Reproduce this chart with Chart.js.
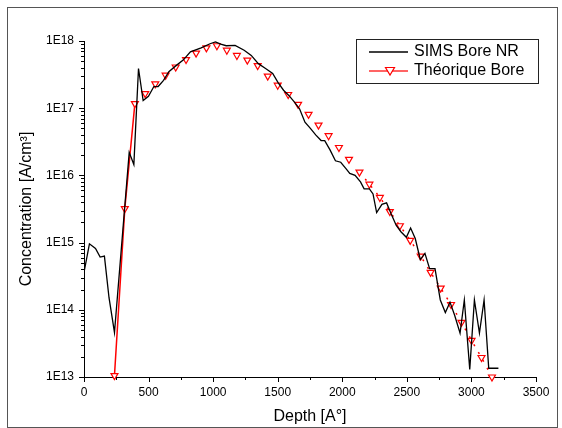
<!DOCTYPE html>
<html>
<head>
<meta charset="utf-8">
<script src="https://cdn.jsdelivr.net/npm/chart.js@4.4.1/dist/chart.umd.min.js"></script>
<style>
  body { margin: 0; background: #fff; }
  #wrap { position: relative; width: 562px; height: 428px; }
  #frame { position: absolute; left: 7px; top: 7px; width: 549px; height: 419px; border: 1px solid #555; pointer-events: none; }
</style>
</head>
<body>
<div id="wrap">
  <canvas id="myChart" width="562" height="428"></canvas>
  <div id="frame"></div>
</div>
<script>
// Profil SIMS mesuré (profondeur en A°, concentration en A/cm3)
const simsDepth = [0, 42, 89, 125, 158, 194, 236, 350, 386, 422, 458, 499, 541, 574, 616, 657, 713, 768, 824, 907,
    976, 1018, 1059, 1101, 1170, 1240, 1295, 1350, 1406, 1461, 1503, 1545, 1586, 1628, 1669, 1711, 1753, 1794, 1836, 1864,
    1905, 1947, 1988, 2030, 2058, 2099, 2141, 2169, 2210, 2238, 2266, 2307, 2343, 2377, 2418, 2454, 2496, 2529, 2565, 2604,
    2640, 2676, 2718, 2759, 2798, 2834, 2870, 2912, 2945, 2987, 3023, 3062, 3098, 3134, 3209];
const simsConc = [3.6e14, 9.6e14, 8.2e14, 6.1e14, 6.3e14, 1.5e14, 4.6e13, 2.2e16, 1.45e16, 3.9e17, 1.3e17, 1.5e17, 2.1e17, 2.1e17, 2.6e17, 3.5e17, 4.3e17, 5.2e17, 6.9e17, 7.9e17,
    9.1e17, 9.7e17, 9.0e17, 8.5e17, 8.6e17, 7.3e17, 6.1e17, 4.6e17, 3.9e17, 3.3e17, 2.4e17, 1.85e17, 1.55e17, 1.24e17, 9.8e16, 6.2e16, 5.0e16, 4.0e16, 3.3e16, 3.3e16,
    2.4e16, 1.65e16, 1.57e16, 1.25e16, 1.07e16, 1.0e16, 8.0e15, 6.3e15, 6.3e15, 5.3e15, 2.8e15, 3.7e15, 3.9e15, 2.7e15, 1.8e15, 1.45e15, 1.2e15, 1.65e15, 1.15e15, 5.6e14,
    6.9e14, 4.1e14, 4.1e14, 1.4e14, 9.1e13, 1.3e14, 8.3e13, 4.5e13, 1.4e14, 1.3e13, 1.4e14, 4.5e13, 1.4e14, 1.35e13, 1.35e13];

// Profil théorique
const theoDepth = [236, 316, 394, 474, 552, 632, 710, 790, 868, 948, 1029, 1106, 1184, 1265, 1345, 1423, 1500, 1581, 1658,
    1739, 1816, 1894, 1974, 2052, 2133, 2210, 2291, 2368, 2446, 2526, 2607, 2684, 2762, 2842, 2923, 3001, 3078, 3159];
const theoConc = [1.05e13, 3.2e15, 1.17e17, 1.65e17, 2.3e17, 3.1e17, 4.1e17, 5.3e17, 6.6e17, 7.9e17, 8.5e17, 7.3e17, 6.1e17, 5.2e17, 4.3e17, 3.0e17, 2.2e17, 1.6e17, 1.14e17,
    8.1e16, 5.6e16, 3.9e16, 2.6e16, 1.73e16, 1.12e16, 7.4e15, 4.7e15, 2.9e15, 1.78e15, 1.08e15, 6.3e14, 3.6e14, 2.1e14, 1.2e14, 6.5e13, 3.5e13, 1.95e13, 1.0e13];

const xTicks = [0, 500, 1000, 1500, 2000, 2500, 3000, 3500];
const yDecades = [13, 14, 15, 16, 17, 18];

const FONT = 'Arial, "Liberation Sans", sans-serif';

// Graduations mineures / majeures vers l'extérieur
const tickMarks = {
    id: 'tickMarks',
    afterDraw(chart) {
        const ctx = chart.ctx;
        const xs = chart.scales.x, ys = chart.scales.y;
        const area = chart.chartArea;
        ctx.save();
        ctx.strokeStyle = '#000';
        ctx.lineWidth = 1;
        ctx.beginPath();
        for (let v = xTicks[0]; v <= xTicks[xTicks.length - 1]; v += 250) {
            const px = Math.round(xs.getPixelForValue(v)) + 0.5;
            const len = v % 500 === 0 ? 5 : 3;
            ctx.moveTo(px, area.bottom);
            ctx.lineTo(px, area.bottom + len);
        }
        yDecades.forEach(e => {
            const kMax = e === yDecades[yDecades.length - 1] ? 1 : 9;
            for (let k = 1; k <= kMax; k++) {
                const py = Math.round(ys.getPixelForValue(k * Math.pow(10, e))) + 0.5;
                const len = k === 1 ? 5 : 3;
                ctx.moveTo(area.left - len, py);
                ctx.lineTo(area.left, py);
            }
        });
        ctx.stroke();
        ctx.restore();
    }
};

// Légende encadrée façon Origin
const boxLegend = {
    id: 'boxLegend',
    afterDraw(chart) {
        const ctx = chart.ctx;
        ctx.save();
        ctx.strokeStyle = '#222';
        ctx.lineWidth = 1;
        ctx.strokeRect(356.5, 39.5, 182, 44);

        ctx.lineWidth = 1.3;
        ctx.strokeStyle = '#000';
        ctx.beginPath();
        ctx.moveTo(369, 52); ctx.lineTo(408, 52);
        ctx.stroke();

        ctx.strokeStyle = '#ff3030';
        ctx.lineWidth = 1.5;
        ctx.beginPath();
        ctx.moveTo(369, 71); ctx.lineTo(408, 71);
        ctx.stroke();
        ctx.fillStyle = '#fff';
        ctx.strokeStyle = 'red';
        ctx.lineWidth = 1.2;
        ctx.beginPath();
        ctx.moveTo(385.5, 67.5); ctx.lineTo(394.5, 67.5); ctx.lineTo(390, 75);
        ctx.closePath();
        ctx.fill(); ctx.stroke();

        ctx.fillStyle = '#000';
        ctx.font = '16px ' + FONT;
        ctx.textBaseline = 'middle';
        ctx.fillText('SIMS Bore NR', 414, 52);
        ctx.fillText('Théorique Bore', 414, 71);
        ctx.restore();
    }
};

const ctx = document.getElementById('myChart').getContext('2d');
new Chart(ctx, {
    type: 'line',
    data: {
        datasets: [{
            label: 'SIMS Bore NR',
            data: simsDepth.map((d, i) => ({ x: d, y: simsConc[i] })),
            borderColor: '#000',
            borderWidth: 1.3,
            pointRadius: 0,
            tension: 0,
            fill: false
        }, {
            label: 'Théorique Bore',
            data: theoDepth.map((d, i) => ({ x: d, y: theoConc[i] })),
            borderColor: 'red',
            borderWidth: 1.5,
            pointStyle: 'triangle',
            rotation: 180,
            pointRadius: 4,
            pointBorderWidth: 1.2,
            pointBackgroundColor: '#fff',
            pointBorderColor: 'red',
            clip: false,
            fill: false,
            segment: {
                borderColor: c => c.p0DataIndex < 2 || c.p0DataIndex >= 24 ? 'red' : 'rgba(0,0,0,0)',
                borderDash: c => c.p0DataIndex >= 24 ? [2, 7] : undefined
            }
        }]
    },
    options: {
        responsive: false,
        animation: false,
        layout: { padding: { left: 0, right: 26, top: 41, bottom: 0 } },
        plugins: { legend: { display: false }, tooltip: { enabled: false } },
        scales: {
            x: {
                type: 'linear',
                min: 0,
                max: 3500,
                afterFit: s => { s.height = 51; },
                afterBuildTicks: s => { s.ticks = xTicks.map(v => ({ value: v })); },
                grid: { drawOnChartArea: false, drawTicks: true, tickLength: 5, color: 'rgba(0,0,0,0)' },
                border: { display: true, color: '#000', width: 1 },
                ticks: { color: '#000', font: { family: FONT, size: 12 }, padding: 3, maxRotation: 0, callback: v => String(v) },
                title: { display: true, text: 'Depth [A°]', color: '#000', font: { family: FONT, size: 16 }, padding: { top: 0, bottom: 2 } }
            },
            y: {
                type: 'logarithmic',
                min: 1e13,
                max: 1e18,
                afterFit: s => { s.width = 84; },
                afterBuildTicks: s => { s.ticks = yDecades.map(e => ({ value: Math.pow(10, e) })); },
                grid: { drawOnChartArea: false, drawTicks: true, tickLength: 5, color: 'rgba(0,0,0,0)' },
                border: { display: true, color: '#000', width: 1 },
                ticks: {
                    color: '#000',
                    font: { family: FONT, size: 12 },
                    padding: 5,
                    autoSkip: false,
                    callback: v => '1E' + Math.round(Math.log10(v))
                },
                title: { display: true, text: 'Concentration [A/cm³]', color: '#000', font: { family: FONT, size: 16 }, padding: { top: 17, bottom: 0 } }
            }
        }
    },
    plugins: [tickMarks, boxLegend]
});
</script>
</body>
</html>
